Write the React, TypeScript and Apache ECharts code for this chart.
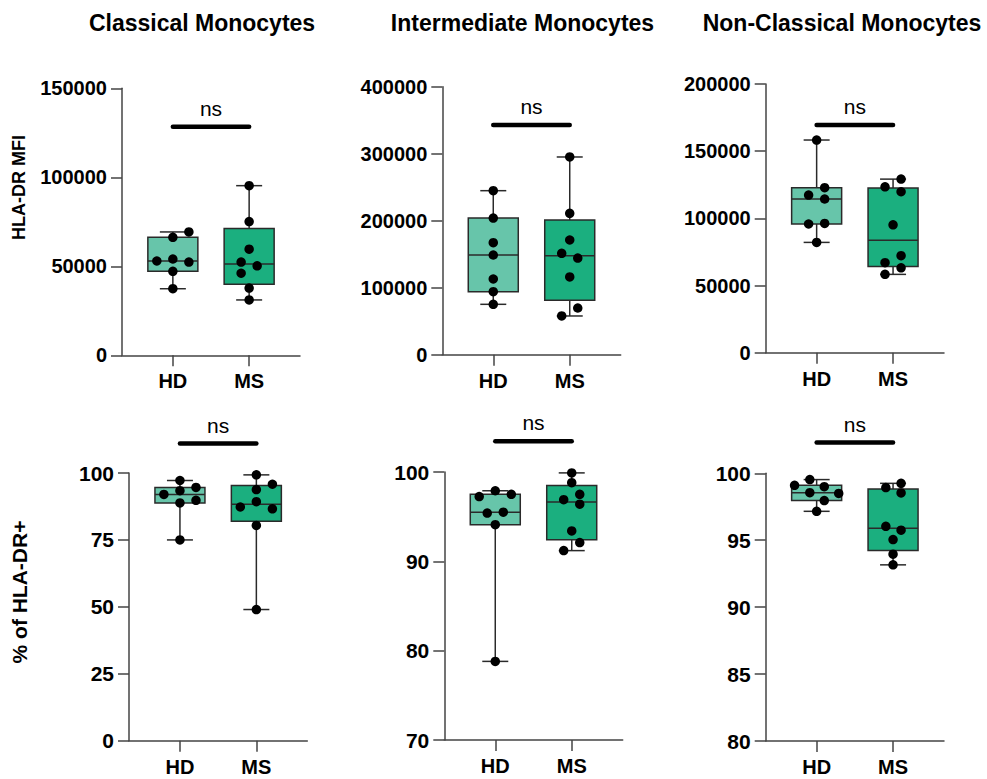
import React, { useEffect, useRef } from "react";
import * as echarts from "echarts";

// ---------- data ----------
const groups = ["HD", "MS"];
const panelTitles = ["Classical Monocytes", "Intermediate Monocytes", "Non-Classical Monocytes"];
const rowTitles = ["HLA-DR MFI", "% of HLA-DR+"];

// HLA-DR MFI
const classicalMfiHD = [52980, 66300, 54100, 47200, 37400, 69300, 52400];
const classicalMfiMS = [95300, 75100, 59600, 52400, 50300, 46100, 37800, 31100];
const intermediateMfiHD = [244800, 204000, 167200, 148800, 113000, 94000, 75200];
const intermediateMfiMS = [295100, 211000, 171200, 151300, 144300, 116000, 69700, 57800];
const nonClassicalMfiHD = [158300, 122800, 117300, 114400, 95800, 96200, 82100];
const nonClassicalMfiMS = [129200, 123500, 119800, 95200, 72200, 67000, 63200, 58300];

// % of HLA-DR+
const classicalPctHD = [97.2, 92.0, 93.4, 94.6, 88.8, 89.8, 75.0];
const classicalPctMS = [99.3, 95.8, 93.8, 87.3, 89.3, 86.6, 80.4, 49.0];
const intermediatePctHD = [97.9, 97.25, 97.5, 95.4, 95.5, 94.1, 78.8];
const intermediatePctMS = [99.9, 98.8, 96.9, 97.5, 96.4, 93.4, 92.1, 91.2];
const nonClassicalPctHD = [99.53, 99.1, 99.0, 98.55, 98.5, 97.96, 97.16];
const nonClassicalPctMS = [99.25, 98.93, 98.53, 96.04, 95.75, 95.05, 93.96, 93.16];

// horizontal jitter slots of the dots (beeswarm columns)
const classicalMfiHDSlot = [-2, 0, 0, 0, 0, 2, 2];
const classicalMfiMSSlot = [0, 0, 0, -1, 1, -1, 0, 0];
const intermediateMfiHDSlot = [0, 0, 0, 0, 0, 0, 0];
const intermediateMfiMSSlot = [0, 0, 0, -1, 1, 0, 1, -1];
const nonClassicalMfiHDSlot = [0, 1, -1, 1, -1, 1, 0];
const nonClassicalMfiMSSlot = [1, -1, 1, 0, 1, -1, 1, -1];
const classicalPctHDSlot = [0, -2, 0, 2, 0, 2, 0];
const classicalPctMSSlot = [0, 2, 0, -2, 0, 2, 0, 0];
const intermediatePctHDSlot = [0, -2, 2, -1, 1, 0, 0];
const intermediatePctMSSlot = [0, 0, -1, 1, 1, 0, 1, -1];
const nonClassicalPctHDSlot = [-0.85, -2.75, 0.95, -0.85, 2.75, 0.95, 0];
const nonClassicalPctMSSlot = [1, -0.9, 1, -0.9, 1, 0, 0, 0];

// y axis ticks
const yMins = [0, 0, 0, 0, 70, 80];
const yMaxs = [150000, 400000, 200000, 100, 100, 100];
const yIntervals = [50000, 100000, 50000, 25, 10, 5];

// significance bars
const sigLabels = ["ns", "ns", "ns", "ns", "ns", "ns"];
const sigLevels = [128400, 342800, 169400, 111, 103.45, 102.3];

const panelValues = [
  [classicalMfiHD, classicalMfiMS],
  [intermediateMfiHD, intermediateMfiMS],
  [nonClassicalMfiHD, nonClassicalMfiMS],
  [classicalPctHD, classicalPctMS],
  [intermediatePctHD, intermediatePctMS],
  [nonClassicalPctHD, nonClassicalPctMS],
];
const panelSlots = [
  [classicalMfiHDSlot, classicalMfiMSSlot],
  [intermediateMfiHDSlot, intermediateMfiMSSlot],
  [nonClassicalMfiHDSlot, nonClassicalMfiMSSlot],
  [classicalPctHDSlot, classicalPctMSSlot],
  [intermediatePctHDSlot, intermediatePctMSSlot],
  [nonClassicalPctHDSlot, nonClassicalPctMSSlot],
];

// ---------- layout & style ----------
const FONT = "'Liberation Sans', Arial, Helvetica, sans-serif";
const grids = [
  { left: 122, top: 88.3, width: 178, height: 267 },
  { left: 442.3, top: 86.7, width: 178.4, height: 268 },
  { left: 765.7, top: 84, width: 178.3, height: 268.7 },
  { left: 129, top: 473, width: 178.3, height: 267.7 },
  { left: 444.3, top: 472, width: 178.4, height: 268 },
  { left: 765.7, top: 473.3, width: 178.3, height: 267.7 },
];
const boxFill = ["#67C5AA", "#1BAF7F"];
const SLOT = 0.105; // x-axis units per jitter slot
const BOX_W = 50;
const CAP_W = 26;
const AXIS_COLOR = "#444";
const LINE_COLOR = "#2a2a2a";

function quantile(sorted: number[], p: number) {
  const n = sorted.length;
  const r = p * (n + 1);
  if (r <= 1) return sorted[0];
  if (r >= n) return sorted[n - 1];
  const lo = Math.floor(r);
  const f = r - lo;
  return sorted[lo - 1] + f * (sorted[lo] - sorted[lo - 1]);
}

function boxStats(vals: number[]) {
  const s = [...vals].sort((a, b) => a - b);
  return [s[0], quantile(s, 0.25), quantile(s, 0.5), quantile(s, 0.75), s[s.length - 1]];
}

function renderBox(params: any, api: any) {
  const x = api.value(0);
  const pMin = api.coord([x, api.value(1)]);
  const pQ1 = api.coord([x, api.value(2)]);
  const pMed = api.coord([x, api.value(3)]);
  const pQ3 = api.coord([x, api.value(4)]);
  const pMax = api.coord([x, api.value(5)]);
  const cx = pMed[0];
  const st = { stroke: LINE_COLOR, lineWidth: 1.5, fill: "none" };
  return {
    type: "group",
    children: [
      { type: "line", shape: { x1: cx, y1: pMax[1], x2: cx, y2: pQ3[1] }, style: st },
      { type: "line", shape: { x1: cx, y1: pQ1[1], x2: cx, y2: pMin[1] }, style: st },
      { type: "line", shape: { x1: cx - CAP_W / 2, y1: pMax[1], x2: cx + CAP_W / 2, y2: pMax[1] }, style: st },
      { type: "line", shape: { x1: cx - CAP_W / 2, y1: pMin[1], x2: cx + CAP_W / 2, y2: pMin[1] }, style: st },
      {
        type: "rect",
        shape: { x: cx - BOX_W / 2, y: pQ3[1], width: BOX_W, height: pQ1[1] - pQ3[1] },
        style: { fill: boxFill[params.dataIndex], stroke: LINE_COLOR, lineWidth: 1.5 },
      },
      { type: "line", shape: { x1: cx - BOX_W / 2, y1: pMed[1], x2: cx + BOX_W / 2, y2: pMed[1] }, style: st },
    ],
  };
}

function buildOption() {
  const xAxis: any[] = [];
  const yAxis: any[] = [];
  const series: any[] = [];
  grids.forEach((g, i) => {
    const bottomRow = i >= 3;
    xAxis.push({
      type: "value",
      gridIndex: i,
      min: 1 / 3,
      max: 8 / 3,
      splitLine: { show: false },
      axisLine: { show: true, onZero: false, lineStyle: { color: AXIS_COLOR, width: 1.5 } },
      axisTick: { show: true, customValues: [1, 2], length: 11, lineStyle: { color: AXIS_COLOR, width: 1.5 } },
      axisLabel: {
        customValues: [1, 2],
        formatter: (v: number) => groups[Math.round(v) - 1] ?? "",
        fontSize: 20,
        fontWeight: "bold",
        fontFamily: FONT,
        color: "#000",
        margin: 16,
      },
    });
    yAxis.push({
      type: "value",
      gridIndex: i,
      min: yMins[i],
      max: yMaxs[i],
      interval: yIntervals[i],
      splitLine: { show: false },
      axisLine: { show: true, onZero: false, lineStyle: { color: AXIS_COLOR, width: 1.5 } },
      axisTick: { show: true, length: 11, lineStyle: { color: AXIS_COLOR, width: 1.5 } },
      axisLabel: {
        formatter: (v: number) => String(v),
        fontSize: bottomRow ? 21 : 20,
        fontWeight: "bold",
        fontFamily: FONT,
        color: "#000",
        margin: 15,
      },
    });

    const [hd, ms] = panelValues[i];
    series.push({
      type: "custom",
      xAxisIndex: i,
      yAxisIndex: i,
      renderItem: renderBox,
      encode: { x: 0, y: [1, 2, 3, 4, 5] },
      data: [[1, ...boxStats(hd)], [2, ...boxStats(ms)]],
      z: 2,
      silent: true,
    });
    const dots: number[][] = [];
    panelValues[i].forEach((vals, gi) => {
      vals.forEach((v, k) => dots.push([gi + 1 + panelSlots[i][gi][k] * SLOT, v]));
    });
    series.push({
      type: "scatter",
      xAxisIndex: i,
      yAxisIndex: i,
      data: dots,
      symbol: "circle",
      symbolSize: 9.5,
      itemStyle: { color: "#000", opacity: 1 },
      z: 3,
      silent: true,
    });
    series.push({
      type: "line",
      xAxisIndex: i,
      yAxisIndex: i,
      data: [[1, sigLevels[i]], [2, sigLevels[i]]],
      showSymbol: false,
      symbol: "none",
      clip: false,
      lineStyle: { color: "#000", width: 4.5, cap: "round", opacity: 1 },
      z: 3,
      silent: true,
    });
    series.push({
      type: "scatter",
      xAxisIndex: i,
      yAxisIndex: i,
      data: [[1.5, sigLevels[i]]],
      symbolSize: 0,
      clip: false,
      itemStyle: { color: "#000", opacity: 1 },
      label: {
        show: true,
        position: "top",
        distance: 8,
        formatter: sigLabels[i],
        fontSize: 21,
        fontFamily: FONT,
        color: "#000",
        opacity: 1,
      },
      z: 4,
      silent: true,
    });
  });

  const titleX = [202, 522.5, 842];
  const graphic: any[] = panelTitles.map((t, i) => ({
    type: "text",
    x: titleX[i],
    y: 23,
    style: {
      text: t,
      fontSize: 23,
      fontWeight: "bold",
      fontFamily: FONT,
      fill: "#000",
      align: "center",
      verticalAlign: "middle",
      textAlign: "center",
      textVerticalAlign: "middle",
    },
  }));
  const rowY = [187.5, 592];
  const rowSize = [18, 21];
  rowTitles.forEach((t, i) => {
    graphic.push({
      type: "text",
      x: 19,
      y: rowY[i],
      rotation: Math.PI / 2,
      style: {
        text: t,
        fontSize: rowSize[i],
        fontWeight: "bold",
        fontFamily: FONT,
        fill: "#000",
        align: "center",
        verticalAlign: "middle",
        textAlign: "center",
        textVerticalAlign: "middle",
      },
    });
  });

  return {
    animation: false,
    backgroundColor: "#fff",
    grid: grids.map((g) => ({ ...g, containLabel: false })),
    xAxis,
    yAxis,
    series,
    graphic,
  };
}

export default function App() {
  const ref = useRef<HTMLDivElement>(null);
  useEffect(() => {
    if (!ref.current) return;
    const chart = echarts.init(ref.current, undefined, { renderer: "svg" });
    chart.setOption(buildOption() as any);
    return () => chart.dispose();
  }, []);
  return (
    <div
      ref={ref}
      style={{ position: "fixed", left: 0, top: 0, width: 987, height: 779, background: "#fff" }}
    />
  );
}
